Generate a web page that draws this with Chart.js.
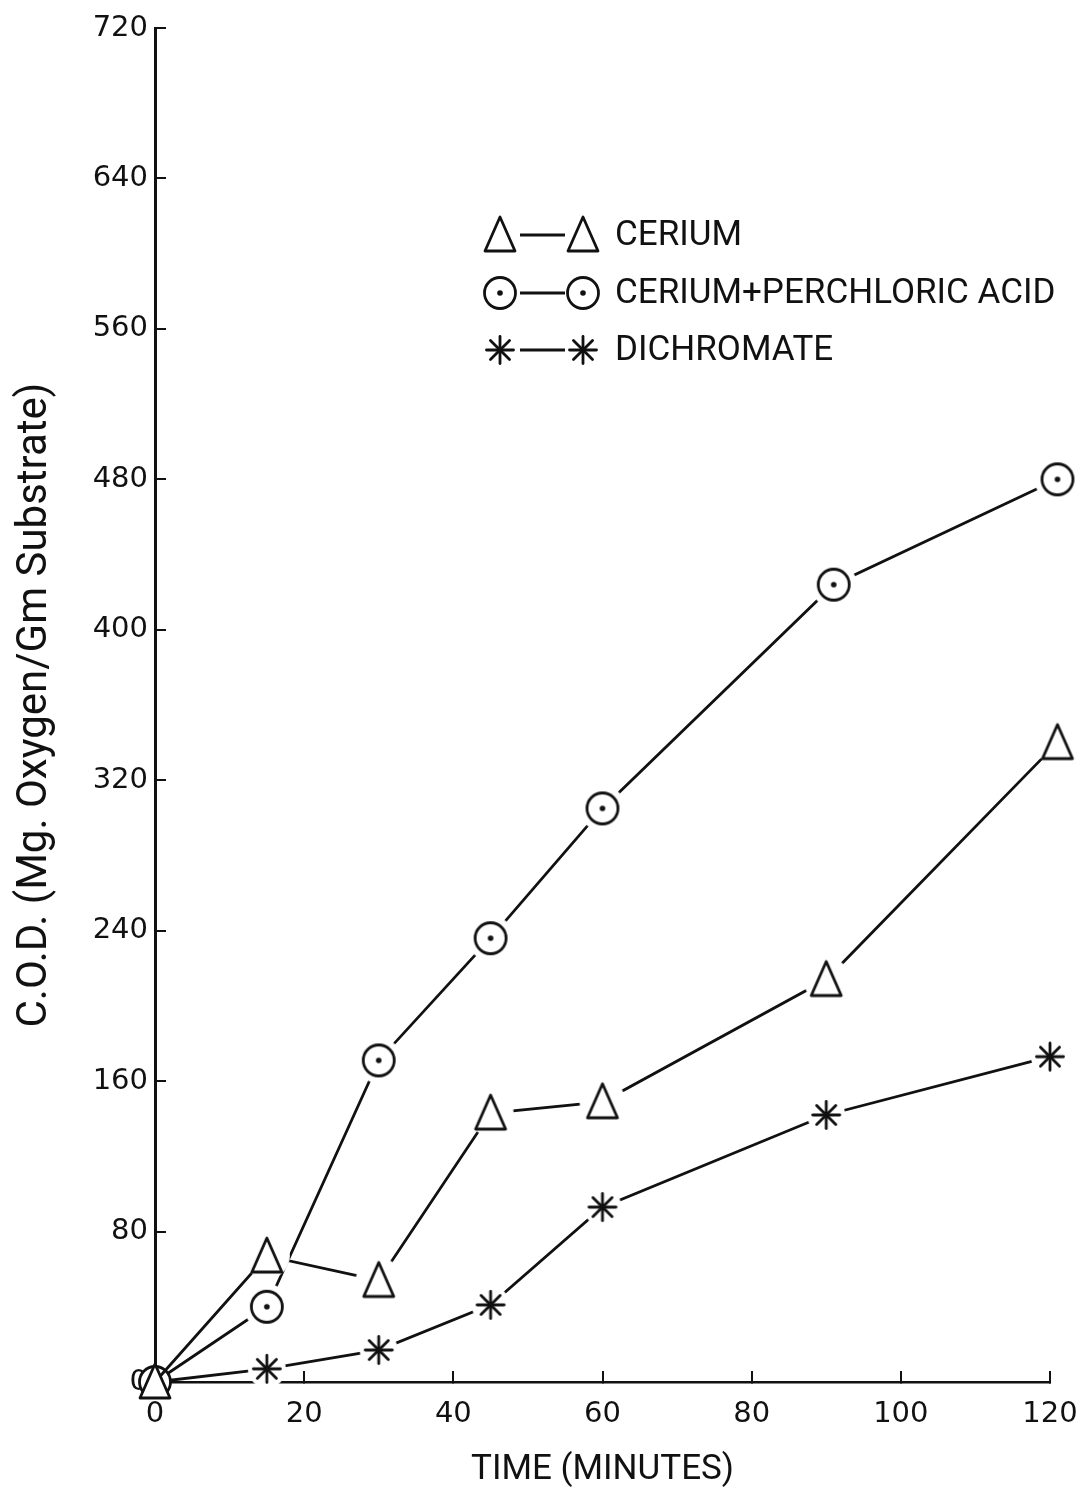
<!DOCTYPE html>
<html>
<head>
<meta charset="utf-8">
<title>C.O.D. vs Time</title>
<script src="https://cdn.jsdelivr.net/npm/chart.js@4.4.1/dist/chart.umd.min.js"></script>
<style>
  html, body { margin: 0; padding: 0; background: #fff; }
  #chartContainer { position: relative; width: 1077px; height: 1492px; }
  #customLegend { position: absolute; left: 0; top: 0; }
  .legend-item { position: absolute; left: 476px; width: 600px; height: 44px; }
  .legend-icon { position: absolute; left: 0; top: 0; }
  .legend-text { position: absolute; left: 139px; top: 0; line-height: 44px; font: 35px Roboto, sans-serif; color: #111; white-space: nowrap; }
</style>
</head>
<body>
<div id="chartContainer">
  <canvas id="chartCanvas" width="1077" height="1492"></canvas>
  <div id="customLegend"></div>
</div>
<script>
// Values
const seriesNames = ['CERIUM', 'CERIUM+PERCHLORIC ACID', 'DICHROMATE'];
const markerKinds = ['triangle', 'circle', 'star'];

const ceriumTimes = [0, 15, 30, 45, 60, 90, 121];
const ceriumCOD = [0, 67, 54, 143, 149, 214, 340];

const perchloricTimes = [0, 15, 30, 45, 60, 91, 121];
const perchloricCOD = [0, 40, 171, 236, 305, 424, 480];

const dichromateTimes = [0, 15, 30, 45, 60, 90, 120];
const dichromateCOD = [0, 7, 17, 41, 93, 142, 173];

const xMax = 120;
const xStep = 20;
const yMax = 720;
const yStep = 80;

const ink = '#111111';

// Draw a marker on a small canvas, optionally with a white halo so the
// connecting lines stop short of the symbol like in the hand-drawn plot
function makeMarker(kind, halo) {
  const c = document.createElement('canvas');
  c.width = 54;
  c.height = 54;
  const g = c.getContext('2d');
  const m = 27;
  if (halo) {
    g.fillStyle = '#ffffff';
    g.beginPath();
    g.arc(m, m, kind === 'star' ? 19 : 23, 0, Math.PI * 2);
    g.fill();
  }
  g.strokeStyle = ink;
  g.fillStyle = '#ffffff';
  g.lineWidth = 2.8;
  g.lineJoin = 'round';
  g.lineCap = 'round';
  if (kind === 'triangle') {
    g.beginPath();
    g.moveTo(m, m - 18);
    g.lineTo(m + 15, m + 16);
    g.lineTo(m - 15, m + 16);
    g.closePath();
    g.fill();
    g.stroke();
  } else if (kind === 'circle') {
    g.beginPath();
    g.arc(m, m, 15.5, 0, Math.PI * 2);
    g.fill();
    g.stroke();
    g.fillStyle = ink;
    g.beginPath();
    g.arc(m, m, 2.8, 0, Math.PI * 2);
    g.fill();
  } else {
    for (let k = 0; k < 4; k++) {
      const a = k * Math.PI / 4;
      const r = 13.5;
      g.beginPath();
      g.moveTo(m - r * Math.cos(a), m - r * Math.sin(a));
      g.lineTo(m + r * Math.cos(a), m + r * Math.sin(a));
      g.stroke();
    }
  }
  return c;
}

const plainMarkers = markerKinds.map(k => makeMarker(k, false));
const haloMarkers = markerKinds.map(k => makeMarker(k, true));

function toPoints(times, values) {
  return times.map((t, i) => ({ x: t, y: values[i] }));
}

const seriesData = [
  toPoints(ceriumTimes, ceriumCOD),
  toPoints(perchloricTimes, perchloricCOD),
  toPoints(dichromateTimes, dichromateCOD)
];

// Custom legend: marker — line — marker, then the name
const legendContainer = document.getElementById('customLegend');
const legendRows = [235, 293, 350];
seriesNames.forEach((name, index) => {
  const item = document.createElement('div');
  item.className = 'legend-item';
  item.style.top = (legendRows[index] - 22) + 'px';

  const icon = document.createElement('canvas');
  icon.className = 'legend-icon';
  icon.width = 130;
  icon.height = 44;
  const g = icon.getContext('2d');
  g.strokeStyle = ink;
  g.lineWidth = 2.8;
  g.beginPath();
  g.moveTo(44, 22);
  g.lineTo(89, 22);
  g.stroke();
  g.drawImage(plainMarkers[index], 24 - 27, 22 - 27);
  g.drawImage(plainMarkers[index], 107 - 27, 22 - 27);

  const text = document.createElement('span');
  text.className = 'legend-text';
  text.textContent = name;

  item.appendChild(icon);
  item.appendChild(text);
  legendContainer.appendChild(item);
});

const tickFont = { family: 'DejaVu Sans', size: 29 };

const ctx = document.getElementById('chartCanvas').getContext('2d');
const chart = new Chart(ctx, {
  type: 'line',
  data: {
    datasets: seriesData.map((pts, index) => ({
      label: seriesNames[index],
      data: pts,
      borderColor: ink,
      borderWidth: 2.8,
      tension: 0,
      fill: false,
      clip: false,
      pointRadius: 20,
      pointHoverRadius: 20,
      pointBorderWidth: 0,
      pointStyle: (c) => c.dataIndex === 0 ? plainMarkers[index] : haloMarkers[index]
    }))
  },
  options: {
    responsive: false,
    animation: false,
    devicePixelRatio: 1,
    events: [],
    layout: {
      padding: { top: 28, right: 27, bottom: 0, left: 0 }
    },
    plugins: {
      legend: { display: false },
      tooltip: { enabled: false }
    },
    scales: {
      x: {
        type: 'linear',
        min: 0,
        max: xMax,
        ticks: {
          stepSize: xStep,
          padding: 26,
          color: ink,
          font: tickFont,
          maxRotation: 0
        },
        grid: {
          drawOnChartArea: false,
          drawTicks: true,
          tickLength: -11,
          color: ink,
          lineWidth: 2
        },
        border: { color: ink, width: 2.5 },
        title: {
          display: true,
          text: 'TIME (MINUTES)',
          color: ink,
          font: { family: 'Roboto', size: 35 },
          padding: { top: 0, bottom: 1 }
        },
        afterFit: (scale) => {
          scale.height = 110;
          scale.paddingLeft = 0;
          scale.paddingRight = 0;
        }
      },
      y: {
        type: 'linear',
        min: 0,
        max: yMax,
        ticks: {
          stepSize: yStep,
          padding: 18,
          color: ink,
          font: tickFont
        },
        grid: {
          drawOnChartArea: false,
          drawTicks: true,
          tickLength: -11,
          color: ink,
          lineWidth: 2
        },
        border: { color: ink, width: 3 },
        title: {
          display: true,
          text: 'C.O.D. (Mg. Oxygen/Gm Substrate)',
          color: ink,
          font: { family: 'Roboto', size: 42 },
          padding: { top: 10, bottom: 0 }
        },
        afterFit: (scale) => {
          scale.width = 155;
          scale.paddingTop = 0;
          scale.paddingBottom = 0;
        }
      }
    }
  }
});
</script>
</body>
</html>
